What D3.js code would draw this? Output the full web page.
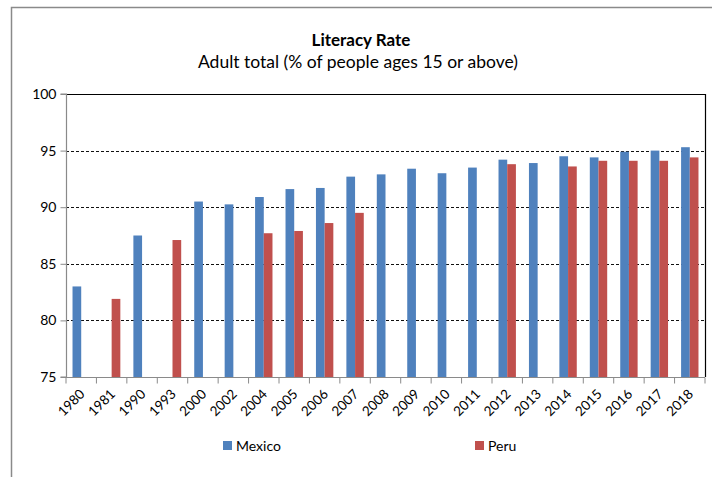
<!DOCTYPE html>
<html>
<head>
<meta charset="utf-8">
<script src="https://cdn.jsdelivr.net/npm/d3@7"></script>
<style>
  html, body { margin: 0; padding: 0; background: #fff; }
  svg { display: block; font-family: Lato, "Open Sans", sans-serif; }
</style>
</head>
<body>
<svg id="chart" width="712" height="477"></svg>
<script>
// Survey years shown on the category axis
const years = ["1980","1981","1990","1993","2000","2002","2004","2005","2006","2007","2008",
               "2009","2010","2011","2012","2013","2014","2015","2016","2017","2018"];
// Adult literacy rate (% of people ages 15+); null where no survey value exists
const mexico = [83.0, null, 87.5, null, 90.5, 90.25, 90.9, 91.6, 91.7, 92.7, 92.9,
                93.4, 93.0, 93.5, 94.2, 93.9, 94.5, 94.4, 94.9, 95.0, 95.3];
const peru   = [null, 81.9, null, 87.1, null, null, 87.7, 87.9, 88.6, 89.5, null,
                null, null, null, 93.8, null, 93.6, 94.1, 94.1, 94.1, 94.4];
const seriesNames = ["Mexico", "Peru"];
const seriesColors = ["#4F81BD", "#C0504D"];
const yTicks = [75, 80, 85, 90, 95, 100];

const svg = d3.select("#chart");
const W = 712, H = 477;
const plot = { left: 66, right: 705, top: 94, bottom: 377 };

// Outer chart frame (left and top edges)
svg.append("path")
  .attr("d", `M11.5,${H} L11.5,7.5 L${W},7.5`)
  .attr("fill", "none").attr("stroke", "#8a8a8a").attr("stroke-width", 1.5);

// Titles
svg.append("text").attr("x", 361).attr("y", 46).attr("text-anchor", "middle")
  .attr("font-weight", "bold").attr("font-size", 17).attr("fill", "#000")
  .text("Literacy Rate");
svg.append("text").attr("x", 358).attr("y", 68).attr("text-anchor", "middle")
  .attr("font-size", 17.5).attr("fill", "#000")
  .text("Adult total (% of people ages 15 or above)");

// Scales
const x0 = d3.scaleBand().domain(years).range([plot.left, plot.right]).padding(0);
const x1 = d3.scaleBand().domain(seriesNames).range([0, x0.bandwidth()])
  .paddingInner(0).paddingOuter(0.75);
const y = d3.scaleLinear().domain([75, 100]).range([plot.bottom, plot.top]);

// Dashed gridlines
svg.append("g").selectAll("line")
  .data(yTicks.filter(t => t > 75 && t < 100))
  .join("line")
  .attr("x1", plot.left).attr("x2", plot.right)
  .attr("y1", d => Math.round(y(d)) + 0.5).attr("y2", d => Math.round(y(d)) + 0.5)
  .attr("stroke", "#111").attr("stroke-dasharray", "3,2");

// Plot area border: top and right edges
svg.append("path")
  .attr("d", `M${plot.left},${Math.round(y(100)) + 0.5} H${plot.right + 0.5} V${plot.bottom}`)
  .attr("fill", "none").attr("stroke", "#000").attr("stroke-width", 1.2);

// Bars
const rows = years.map((yr, i) => ({ yr, vals: [mexico[i], peru[i]] }));
const groups = svg.append("g").selectAll("g").data(rows).join("g")
  .attr("transform", d => `translate(${x0(d.yr)},0)`);
groups.selectAll("rect")
  .data(d => d.vals.map((v, k) => ({ name: seriesNames[k], v, k })).filter(e => e.v != null))
  .join("rect")
  .attr("x", e => x1(e.name))
  .attr("width", x1.bandwidth())
  .attr("y", e => y(e.v))
  .attr("height", e => y(75) - y(e.v))
  .attr("fill", e => seriesColors[e.k]);

// Y axis
const yAxis = svg.append("g").attr("transform", `translate(${plot.left + 0.5},0)`)
  .call(d3.axisLeft(y).tickValues(yTicks).tickSize(6).tickPadding(4).tickFormat(d3.format("d")));
yAxis.select(".domain").attr("stroke", "#8a8a8a").attr("stroke-width", 1.2)
  .attr("d", `M-6,${y(100)}H0V${y(75)}H-6`);
yAxis.selectAll(".tick line").attr("stroke", "#8a8a8a");
yAxis.selectAll("text").attr("font-size", 14).attr("fill", "#000")
  .attr("font-family", "Lato, 'Open Sans', sans-serif");

// X axis: baseline, boundary ticks and rotated labels
const xAxis = svg.append("g").attr("transform", `translate(0,${plot.bottom + 0.5})`);
xAxis.append("line").attr("x1", plot.left).attr("x2", plot.right)
  .attr("stroke", "#8a8a8a").attr("stroke-width", 1.2);
xAxis.selectAll(".bt").data(years.concat(["end"])).join("line").attr("class", "bt")
  .attr("x1", d => d === "end" ? plot.right : x0(d))
  .attr("x2", d => d === "end" ? plot.right : x0(d))
  .attr("y1", 0).attr("y2", 6).attr("stroke", "#8a8a8a");
xAxis.selectAll(".lbl").data(years).join("text").attr("class", "lbl")
  .attr("transform", d => `translate(${x0(d) + x0.bandwidth() / 2 + 1},${14}) rotate(-45)`)
  .attr("text-anchor", "end").attr("dy", "0.35em")
  .attr("font-size", 13.5).attr("fill", "#000")
  .text(d => d);

// Legend
const legendX = [223, 475];
const legend = svg.append("g").selectAll("g").data(seriesNames).join("g")
  .attr("transform", (d, i) => `translate(${legendX[i]},441)`);
legend.append("rect").attr("width", 9).attr("height", 9)
  .attr("fill", (d, i) => seriesColors[i]);
legend.append("text").attr("x", 13).attr("y", 9.5)
  .attr("font-size", 14).attr("fill", "#000").text(d => d);
</script>
</body>
</html>
